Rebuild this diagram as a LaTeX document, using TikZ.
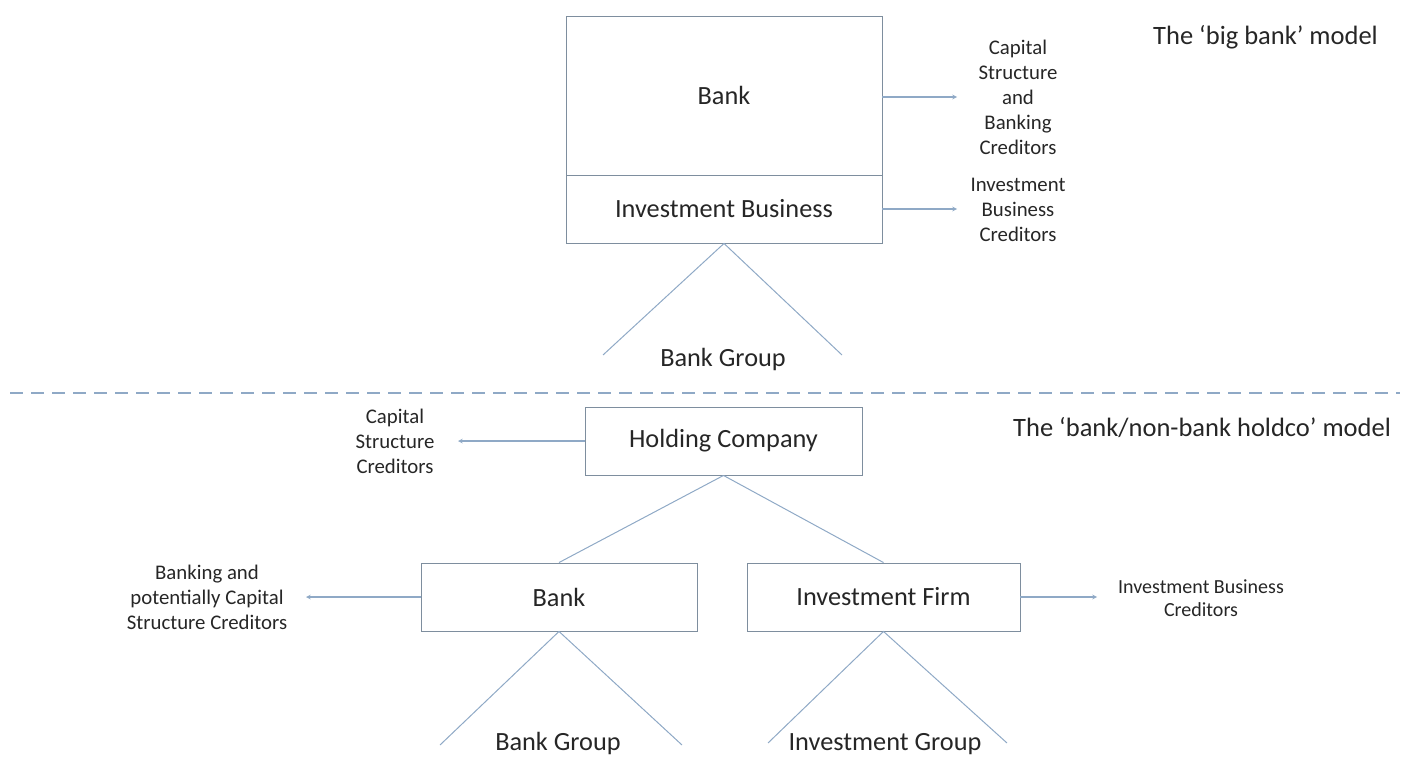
\documentclass[tikz,border=0pt]{standalone}
\usepackage{fontspec}
\setmainfont{Carlito}
\usepackage{tikz}
\usetikzlibrary{arrows}
\definecolor{boxline}{HTML}{7E8E9E}
\definecolor{legline}{HTML}{8FA9C6}
\definecolor{txt}{HTML}{262626}

\begin{document}
\begin{tikzpicture}[x=1pt, y=-1pt,
  box/.style = {draw=boxline, line width=0.9pt, inner sep=0pt, text=txt, font=\fontsize{26.3}{30}\selectfont},
  leg/.style = {draw=legline, line width=1pt},
  link/.style = {draw=legline, line width=1.1pt, >=stealth, ->},
  lbl/.style = {align=center, text=txt, inner sep=0pt, font=\fontsize{20.8}{25}\selectfont},
  title/.style = {anchor=west, text=txt, inner sep=0pt, font=\fontsize{26.5}{30}\selectfont},
  grp/.style = {anchor=base, text=txt, inner sep=0pt, font=\fontsize{26.3}{30}\selectfont}]
\useasboundingbox (0,0) rectangle (1408,757);
% the 'big bank' model
\node[box, minimum width=316pt, minimum height=159pt] (bank) at (724,95.5) {Bank};
\node[box, minimum width=316pt, minimum height=68pt] (invbiz) at (724,209) {Investment Business};
\node[lbl] (capbank) at (1018,97) {Capital\\Structure\\and\\Banking\\Creditors};
\node[lbl] (invcred) at (1018,210) {Investment\\Business\\Creditors};
\draw[link] (bank.east |- 0,97) -- (957,97);
\draw[link] (invbiz.east) -- (957,209);
\coordinate (bgl) at (603,355);
\coordinate (bgr) at (842,355);
\draw[leg] (bgl) -- (invbiz.south) -- (bgr);
\node[grp] (bankgrp) at (723,366) {Bank Group};
\node[title] (bigtitle) at (1153,37) {The ‘big bank’ model};
% divider
\draw[draw=legline, line width=1.1pt, dash pattern=on 13pt off 8pt] (10,393) -- (1400,393);
% the 'bank/non-bank holdco' model
\node[title] (holdtitle) at (1013,428) {The ‘bank/non-bank holdco’ model};
\node[box, minimum width=277pt, minimum height=68pt] (hold) at (723.5,441) {Holding Company};
\node[box, minimum width=276pt, minimum height=68pt] (bank2) at (559,597) {Bank};
\node[box, minimum width=273pt, minimum height=68pt] (invfirm) at (883.5,597) {Investment Firm};
\node[lbl] (capcred) at (395,441) {Capital\\Structure\\Creditors};
\node[lbl] (bankcred) at (207,597) {Banking and\\potentially Capital\\Structure Creditors};
\node[lbl, font=\fontsize{20}{23}\selectfont] (firmcred) at (1201,598) {Investment Business\\Creditors};
\draw[link] (hold.west) -- (458,441);
\draw[link] (bank2.west) -- (306,597);
\draw[link] (invfirm.east) -- (1097,597);
\draw[leg] (hold.south) -- (bank2.north);
\draw[leg] (hold.south) -- (invfirm.north);
\coordinate (b2l) at (440,745);
\coordinate (b2r) at (682,745);
\draw[leg] (b2l) -- (bank2.south) -- (b2r);
\coordinate (ifl) at (768,743);
\coordinate (ifr) at (1007,743);
\draw[leg] (ifl) -- (invfirm.south) -- (ifr);
\node[grp] (bankgrp2) at (558,750) {Bank Group};
\node[grp] (invgrp) at (885,750) {Investment Group};
\end{tikzpicture}
\end{document}
